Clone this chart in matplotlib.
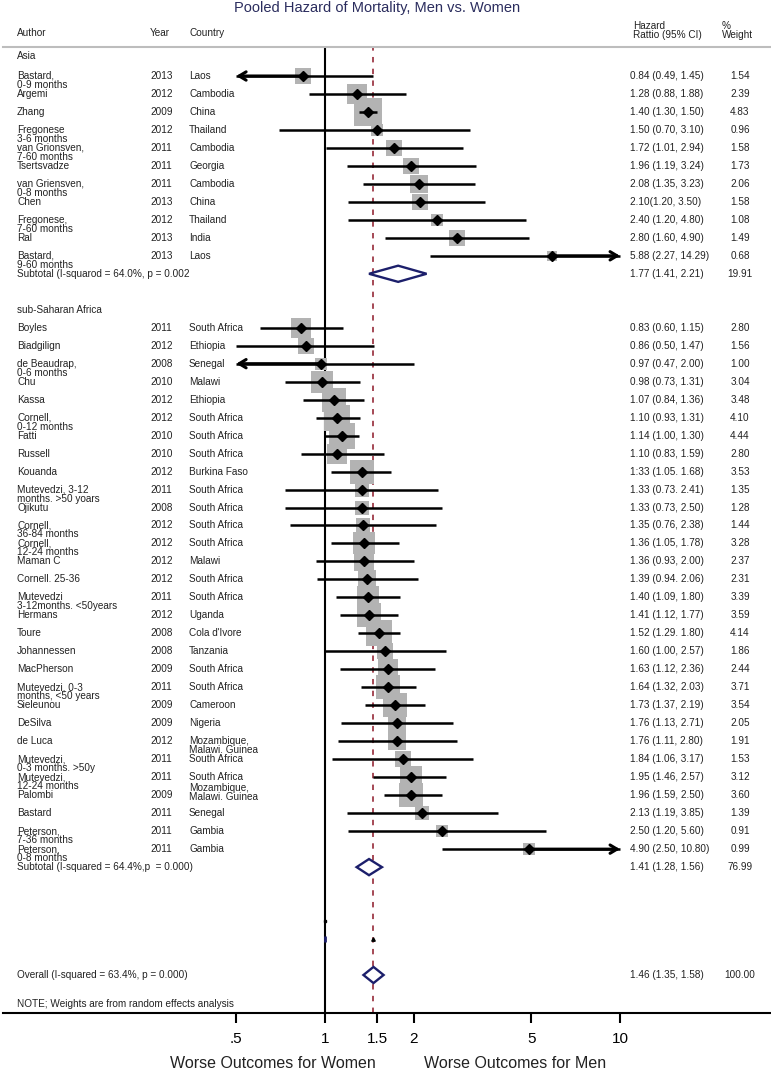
import numpy as np
import matplotlib
matplotlib.use('Agg')
import matplotlib.pyplot as plt
from matplotlib.patches import Polygon
from matplotlib.transforms import blended_transform_factory

plt.rcParams['font.family'] = ['Liberation Sans', 'DejaVu Sans']

# ---- data ----
asia_authors = ['Bastard,\n0-9 months', 'Argemi', 'Zhang', 'Fregonese\n3-6 months',
                'van Grionsven,\n7-60 months', 'Tsertsvadze', 'van Griensven,\n0-8 months',
                'Chen', 'Fregonese,\n7-60 months', 'Ral', 'Bastard,\n9-60 months']
asia_years = ['2013', '2012', '2009', '2012', '2011', '2011', '2011', '2013', '2012', '2013', '2013']
asia_countries = ['Laos', 'Cambodia', 'China', 'Thailand', 'Cambodia', 'Georgia',
                  'Cambodia', 'China', 'Thailand', 'India', 'Laos']
asia_hr = [0.84, 1.28, 1.40, 1.50, 1.72, 1.96, 2.08, 2.10, 2.40, 2.80, 5.88]
asia_lo = [0.49, 0.88, 1.30, 0.70, 1.01, 1.19, 1.35, 1.20, 1.20, 1.60, 2.27]
asia_hi = [1.45, 1.88, 1.50, 3.10, 2.94, 3.24, 3.23, 3.50, 4.80, 4.90, 14.29]
asia_wt = [1.54, 2.39, 4.83, 0.96, 1.58, 1.73, 2.06, 1.58, 1.08, 1.49, 0.68]
asia_ci_text = ['0.84 (0.49, 1.45)', '1.28 (0.88, 1.88)', '1.40 (1.30, 1.50)',
                '1.50 (0.70, 3.10)', '1.72 (1.01, 2.94)', '1.96 (1.19, 3.24)',
                '2.08 (1.35, 3.23)', '2.10(1.20, 3.50)', '2.40 (1.20, 4.80)',
                '2.80 (1.60, 4.90)', '5.88 (2.27, 14.29)']
asia_sub = (1.77, 1.41, 2.21)
asia_sub_text = ['Subtotal (I-squarod = 64.0%, p = 0.002', '1.77 (1.41, 2.21)', '19.91']

afr_authors = ['Boyles', 'Biadgilign', 'de Beaudrap,\n0-6 months', 'Chu', 'Kassa',
               'Cornell,\n0-12 months', 'Fatti', 'Russell', 'Kouanda',
               'Mutevedzi, 3-12\nmonths. >50 yoars', 'Ojikutu', 'Cornell,\n36-84 months',
               'Cornell,\n12-24 months', 'Maman C', 'Cornell. 25-36',
               'Mutevedzi\n3-12months. <50years', 'Hermans', 'Toure', 'Johannessen',
               'MacPherson', 'Mutevedzi, 0-3\nmonths, <50 years', 'Sieleunou', 'DeSilva',
               'de Luca', 'Mutevedzi,\n0-3 months. >50y', 'Mutevedzi,\n12-24 months',
               'Palombi', 'Bastard', 'Peterson,\n7-36 months', 'Peterson,\n0-8 months']
afr_years = ['2011', '2012', '2008', '2010', '2012', '2012', '2010', '2010', '2012',
             '2011', '2008', '2012', '2012', '2012', '2012', '2011', '2012', '2008',
             '2008', '2009', '2011', '2009', '2009', '2012', '2011', '2011', '2009',
             '2011', '2011', '2011']
afr_countries = ['South Africa', 'Ethiopia', 'Senegal', 'Malawi', 'Ethiopia',
                 'South Africa', 'South Africa', 'South Africa', 'Burkina Faso',
                 'South Africa', 'South Africa', 'South Africa', 'South Africa', 'Malawi',
                 'South Africa', 'South Africa', 'Uganda', "Cola d'Ivore", 'Tanzania',
                 'South Africa', 'South Africa', 'Cameroon', 'Nigeria',
                 'Mozambique,\nMalawi. Guinea', 'South Africa', 'South Africa',
                 'Mozambique,\nMalawi. Guinea', 'Senegal', 'Gambia', 'Gambia']
afr_hr = [0.83, 0.86, 0.97, 0.98, 1.07, 1.10, 1.14, 1.10, 1.33, 1.33, 1.33, 1.35, 1.36,
          1.36, 1.39, 1.40, 1.41, 1.52, 1.60, 1.63, 1.64, 1.73, 1.76, 1.76, 1.84, 1.95,
          1.96, 2.13, 2.50, 4.90]
afr_lo = [0.60, 0.50, 0.47, 0.73, 0.84, 0.93, 1.00, 0.83, 1.05, 0.73, 0.73, 0.76, 1.05,
          0.93, 0.94, 1.09, 1.12, 1.29, 1.00, 1.12, 1.32, 1.37, 1.13, 1.11, 1.06, 1.46,
          1.59, 1.19, 1.20, 2.50]
afr_hi = [1.15, 1.47, 2.00, 1.31, 1.36, 1.31, 1.30, 1.59, 1.68, 2.41, 2.50, 2.38, 1.78,
          2.00, 2.06, 1.80, 1.77, 1.80, 2.57, 2.36, 2.03, 2.19, 2.71, 2.80, 3.17, 2.57,
          2.50, 3.85, 5.60, 10.80]
afr_wt = [2.80, 1.56, 1.00, 3.04, 3.48, 4.10, 4.44, 2.80, 3.53, 1.35, 1.28, 1.44, 3.28,
          2.37, 2.31, 3.39, 3.59, 4.14, 1.86, 2.44, 3.71, 3.54, 2.05, 1.91, 1.53, 3.12,
          3.60, 1.39, 0.91, 0.99]
afr_ci_text = ['0.83 (0.60, 1.15)', '0.86 (0.50, 1.47)', '0.97 (0.47, 2.00)',
               '0.98 (0.73, 1.31)', '1.07 (0.84, 1.36)', '1.10 (0.93, 1.31)',
               '1.14 (1.00, 1.30)', '1.10 (0.83, 1.59)', '1:33 (1.05. 1.68)',
               '1.33 (0.73. 2.41)', '1.33 (0.73, 2.50)', '1.35 (0.76, 2.38)',
               '1.36 (1.05, 1.78)', '1.36 (0.93, 2.00)', '1.39 (0.94. 2.06)',
               '1.40 (1.09, 1.80)', '1.41 (1.12, 1.77)', '1.52 (1.29. 1.80)',
               '1.60 (1.00, 2.57)', '1.63 (1.12, 2.36)', '1.64 (1.32, 2.03)',
               '1.73 (1.37, 2.19)', '1.76 (1.13, 2.71)', '1.76 (1.11, 2.80)',
               '1.84 (1.06, 3.17)', '1.95 (1.46, 2.57)', '1.96 (1.59, 2.50)',
               '2.13 (1.19, 3.85)', '2.50 (1.20, 5.60)', '4.90 (2.50, 10.80)']
afr_sub = (1.41, 1.28, 1.56)
afr_sub_text = ['Subtotal (I-squared = 64.4%,p  = 0.000)', '1.41 (1.28, 1.56)', '76.99']

overall = (1.46, 1.35, 1.58)
overall_text = ['Overall (I-squared = 63.4%, p = 0.000)', '1.46 (1.35, 1.58)', '100.00']

ticks = [0.5, 1, 1.5, 2, 5, 10]
tick_labels = ['.5', '1', '1.5', '2', '5', '10']

# ---- layout ----
W, H = 771, 1070
fig = plt.figure(figsize=(W / 100, H / 100), dpi=100)

px0, pxs = 325.0, 128.1        # pixel of HR=1, pixels per ln unit
ry0, rys = 76.0, 17.98         # pixel of first row, pixels per row
ax_l, ax_r, ax_t, ax_b = 3, 770, 47, 1013
ax = fig.add_axes([ax_l / W, 1 - ax_b / H, (ax_r - ax_l) / W, (ax_b - ax_t) / H])
ax.set_xscale('log')
ax.set_xlim(np.exp((ax_l - px0) / pxs), np.exp((ax_r - px0) / pxs))
ax.set_ylim((ax_b - ry0) / rys, (ax_t - ry0) / rys)
ax.minorticks_off()
ax.set_xticks(ticks)
ax.set_xticklabels(tick_labels, fontsize=11)
ax.tick_params(axis='x', direction='out', length=7, width=1.5, pad=7)
ax.tick_params(axis='y', left=False, labelleft=False)
for s in ['left', 'right']:
    ax.spines[s].set_visible(False)
ax.spines['top'].set_color('#bdbdbd')
ax.spines['top'].set_linewidth(1.5)
ax.spines['bottom'].set_linewidth(1.5)

trans = blended_transform_factory(fig.transFigure, ax.transData)
fs = 7.2
col_author, col_year, col_country, col_ci, col_wt = 17, 150, 189, 630, 740
navy = '#1c1f6b'
ci_min, ci_max = 0.5, 10

ax.axvline(1, color='black', lw=1.5, zorder=1)
ax.axvline(overall[0], color='#9e3a48', lw=1.3, ls=(0, (3, 3.5)), zorder=1)


def put_text(x, r, s, ha='left', shift=0.0, **kw):
    for k, line in enumerate(s.split('\n')):
        ax.text(x / W, r + shift + 0.5 * k, line, transform=trans, ha=ha, va='center',
                fontsize=fs, color='#222222', **kw)


def arrow(x_to, x_from, r):
    ax.annotate('', xy=(x_to, r), xytext=(x_from, r),
                arrowprops=dict(arrowstyle='->,head_length=0.5,head_width=0.3', lw=2.2,
                                color='black', mutation_scale=10, shrinkA=0, shrinkB=0),
                zorder=3)


def draw_group(rows, authors, years, countries, hr, lo, hi, wt, ci_text):
    for i, r in enumerate(rows):
        put_text(col_author, r, authors[i])
        put_text(col_year, r, years[i])
        shift = -0.38 if authors[i] == 'Palombi' else 0.0
        put_text(col_country, r, countries[i], shift=shift)
        put_text(col_ci, r, ci_text[i])
        put_text(col_wt, r, f'{wt[i]:.2f}', ha='center')
        ax.scatter(hr[i], r, marker='s', s=80 * wt[i], color='#b3b3b3', lw=0, zorder=2)
        a, b = max(lo[i], ci_min), min(hi[i], ci_max)
        ax.plot([a, b], [r, r], color='black', lw=1.8, solid_capstyle='butt', zorder=3)
        if lo[i] < ci_min:
            arrow(ci_min, hr[i], r)
        if hi[i] > ci_max:
            arrow(ci_max, hr[i], r)
        ax.plot(hr[i], r, marker='D', ms=5, color='black', zorder=4)


def diamond(r, est, texts):
    e, l, h = est
    d = 0.45
    ax.add_patch(Polygon([(l, r), (e, r - d), (h, r), (e, r + d)], closed=True,
                         facecolor='white', edgecolor=navy, lw=1.7, zorder=4))
    put_text(col_author, r, texts[0])
    put_text(col_ci, r, texts[1])
    put_text(col_wt, r, texts[2], ha='center')


asia_rows = list(range(0, len(asia_hr)))
afr_start = len(asia_hr) + 3
afr_rows = list(range(afr_start, afr_start + len(afr_hr)))

put_text(col_author, -1.1, 'Asia')
draw_group(asia_rows, asia_authors, asia_years, asia_countries, asia_hr, asia_lo,
           asia_hi, asia_wt, asia_ci_text)
diamond(len(asia_hr), asia_sub, asia_sub_text)

put_text(col_author, afr_start - 1, 'sub-Saharan Africa')
draw_group(afr_rows, afr_authors, afr_years, afr_countries, afr_hr, afr_lo,
           afr_hi, afr_wt, afr_ci_text)
sub_row = afr_start + len(afr_hr)
diamond(sub_row, afr_sub, afr_sub_text)

# stray marks between subtotal and overall
ax.plot(1, sub_row + 3, marker='s', ms=2, color='black', zorder=4)
ax.plot(1, sub_row + 4, marker='|', ms=5, mew=2, color=navy, zorder=4)
ax.plot(overall[0], sub_row + 4, marker='^', ms=2.5, color='black', zorder=4)

overall_row = sub_row + 6
diamond(overall_row, overall, overall_text)
put_text(col_author, overall_row + 1.6, 'NOTE; Weights are from random effects analysis')

# header
for x, label in [(col_author, 'Author'), (col_year, 'Year'), (col_country, 'Country')]:
    fig.text(x / W, 1 - 33 / H, label, va='center', fontsize=fs, color='#222222')
fig.text(633 / W, 1 - 26 / H, 'Hazard', va='center', fontsize=fs, color='#222222')
fig.text(633 / W, 1 - 34.5 / H, 'Rattio (95% CI)', va='center', fontsize=fs, color='#222222')
fig.text(722 / W, 1 - 26 / H, '%', va='center', fontsize=fs, color='#222222')
fig.text(722 / W, 1 - 34.5 / H, 'Weight', va='center', fontsize=fs, color='#222222')

fig.text(377 / W, 1 - 8 / H, 'Pooled Hazard of Mortality, Men vs. Women', ha='center',
         va='center', fontsize=10.5, color='#2b2d5e')
fig.text(273 / W, 1 - 1063 / H, 'Worse Outcomes for Women', ha='center', va='center',
         fontsize=11.5, color='#222222')
fig.text(515 / W, 1 - 1063 / H, 'Worse Outcomes for Men', ha='center', va='center',
         fontsize=11.5, color='#222222')

fig.savefig('out.png', dpi=100)
